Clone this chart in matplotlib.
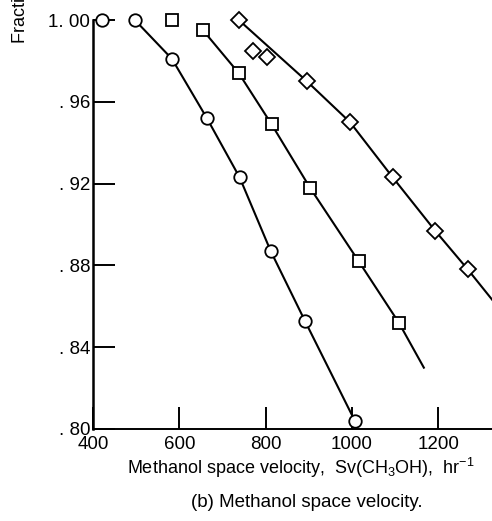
import matplotlib
matplotlib.use('Agg')
import matplotlib.pyplot as plt

# conversion data, three series
circ_x = [421, 497, 583, 664, 740, 812, 891, 1007]
circ_y = [1.000, 1.000, 0.981, 0.952, 0.923, 0.887, 0.853, 0.804]
circ_line_x = [497, 583, 664, 740, 812, 891, 1007]
circ_line_y = [1.000, 0.981, 0.952, 0.923, 0.887, 0.853, 0.804]

sq_x = [583, 655, 738, 814, 903, 1016, 1109]
sq_y = [1.000, 0.995, 0.974, 0.949, 0.918, 0.882, 0.852]
sq_line_x = [655, 738, 814, 903, 1016, 1109, 1167]
sq_line_y = [0.995, 0.974, 0.949, 0.918, 0.882, 0.852, 0.830]

dia_x = [738, 771, 803, 896, 996, 1095, 1193, 1269]
dia_y = [1.000, 0.985, 0.982, 0.970, 0.950, 0.923, 0.897, 0.878]
dia_line_x = [738, 896, 996, 1095, 1193, 1269, 1330]
dia_line_y = [1.000, 0.970, 0.950, 0.923, 0.897, 0.878, 0.862]

xticks = [400, 600, 800, 1000, 1200]
yticks = [0.80, 0.84, 0.88, 0.92, 0.96, 1.00]
ytick_labels = ['. 80', '. 84', '. 88', '. 92', '. 96', '1. 00']

FONT = 'Liberation Sans'
plt.rcParams['font.family'] = [FONT, 'DejaVu Sans']
plt.rcParams['mathtext.fontset'] = 'custom'
plt.rcParams['mathtext.rm'] = FONT

fig = plt.figure(figsize=(4.92, 5.21), dpi=100)
ax = fig.add_axes([0.189, 0.1766, 0.811, 0.785])

lw = 1.5
ax.plot(circ_line_x, circ_line_y, color='black', lw=lw, zorder=2)
ax.plot(sq_line_x, sq_line_y, color='black', lw=lw, zorder=2)
ax.plot(dia_line_x, dia_line_y, color='black', lw=lw, zorder=2)

mk = dict(linestyle='none', mfc='white', mec='black', mew=1.3, clip_on=False, zorder=3)
ax.plot(circ_x, circ_y, marker='o', ms=9, **mk)
ax.plot(sq_x, sq_y, marker='s', ms=8.5, **mk)
ax.plot(dia_x, dia_y, marker='D', ms=8, **mk)

ax.set_xlim(400, 1325)
ax.set_ylim(0.80, 1.00)
ax.spines['top'].set_visible(False)
ax.spines['right'].set_visible(False)
ax.spines['left'].set_linewidth(1.8)
ax.spines['bottom'].set_linewidth(1.4)

ax.set_xticks(xticks)
ax.set_xticklabels([str(t) for t in xticks])
ax.set_yticks(yticks)
ax.set_yticklabels(ytick_labels)
ax.tick_params(axis='both', direction='in', length=16, width=1.4, labelsize=13.5, pad=2)
ax.tick_params(axis='x', pad=5)

ax.set_xlabel('Methanol space velocity,  Sv(CH$_3$OH),  hr$^{-1}$', fontsize=13, labelpad=1)
ax.xaxis.set_label_coords(0.52, -0.065)
fig.text(0.025, (521 - 43) / 521, 'Fraction of methanol converted',
         rotation=90, ha='left', va='bottom', fontsize=13)
fig.text(0.623, 0.027, '(b) Methanol space velocity.', ha='center', fontsize=13.5)

fig.savefig('out.png', dpi=100)
